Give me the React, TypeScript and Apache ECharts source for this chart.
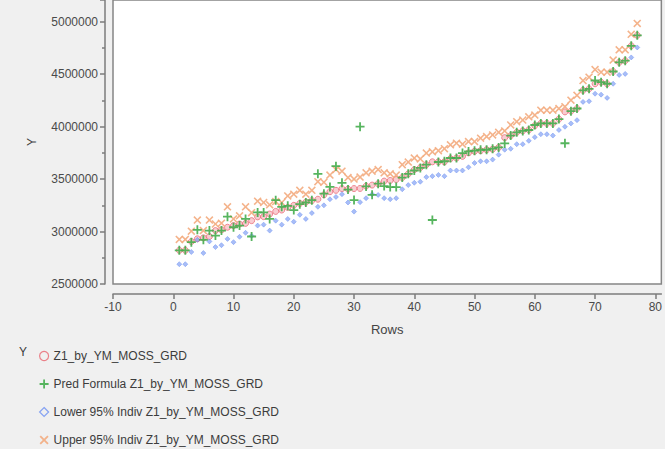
import React, { useEffect, useRef } from "react";
import * as echarts from "echarts";

// Row numbers 1..77 (x)
const z1Values = [
  2821000, 2821000, 2905000, 2931000, 2940000, 2953000, 3009000, 3016000, 3041000, 3057000,
  3072000, 3078000, 3104000, 3140000, 3142000, 3167000, 3192000, 3205000, 3230000, 3250000,
  3268000, 3280000, 3295000, 3308000, 3350000, 3380000, 3393000, 3410000, 3405000, 3410000,
  3411000, 3434000, 3443000, 3456000, 3481000, 3487000, 3496000, 3515000, 3550000, 3590000,
  3610000, 3638000, 3665000, 3665000, 3665000, 3695000, 3701000, 3717000, 3750000, 3765000,
  3771000, 3780000, 3785000, 3802000, 3895000, 3915000, 3946000, 3960000, 3970000, 4010000,
  4031000, 4031000, 4031000, 4072000, 4141000, 4148000, 4173000, 4346000, 4361000, 4409000,
  4424000, 4409000, 4526000, 4613000, 4629000, 4771000, 4871000,
];

const predValues = [
  2821000, 2821000, 2899000, 3016000, 2921000, 3009000, 2962000, 3009000, 3142000, 3041000,
  3057000, 3120000, 2953000, 3182000, 3182000, 3120000, 3299000, 3236000, 3245000, 3205000,
  3261000, 3277000, 3299000, 3550000, 3361000, 3425000, 3623000, 3465000, 3400000, 3300000,
  4000000, 3430000, 3350000, 3456000, 3434000, 3424000, 3424000, 3515000, 3550000, 3582000,
  3607000, 3638000, 3110000, 3663000, 3670000, 3701000, 3701000, 3748000, 3764000, 3771000,
  3780000, 3780000, 3790000, 3802000, 3840000, 3915000, 3946000, 3959000, 3968000, 4016000,
  4031000, 4031000, 4031000, 4072000, 3842000, 4148000, 4173000, 4346000, 4361000, 4440000,
  4424000, 4409000, 4526000, 4613000, 4629000, 4771000, 4871000,
];

const lowerValues = [
  2689000, 2689000, 2805000, 2921000, 2795000, 2906000, 2852000, 2870000, 2930000, 2899000,
  2950000, 2988000, 2960000, 3057000, 3066000, 3009000, 3104000, 3066000, 3120000, 3094000,
  3160000, 3120000, 3176000, 3236000, 3250000, 3308000, 3330000, 3356000, 3277000, 3190000,
  3280000, 3318000, 3356000, 3349000, 3318000, 3308000, 3318000, 3403000, 3443000, 3465000,
  3475000, 3519000, 3528000, 3540000, 3528000, 3582000, 3582000, 3582000, 3613000, 3654000,
  3670000, 3670000, 3686000, 3733000, 3780000, 3789000, 3833000, 3833000, 3865000, 3900000,
  3928000, 3928000, 3915000, 3968000, 3999000, 4031000, 4062000, 4236000, 4242000, 4314000,
  4305000, 4274000, 4409000, 4493000, 4503000, 4660000, 4755000,
];

const upperValues = [
  2925000, 2925000, 3003000, 3110000, 3009000, 3110000, 3072000, 3080000, 3236000, 3120000,
  3150000, 3236000, 3180000, 3290000, 3277000, 3255000, 3286000, 3277000, 3340000, 3356000,
  3393000, 3356000, 3393000, 3475000, 3470000, 3538000, 3591000, 3575000, 3515000, 3500000,
  3520000, 3560000, 3575000, 3591000, 3560000, 3550000, 3538000, 3638000, 3663000, 3701000,
  3692000, 3748000, 3760000, 3771000, 3790000, 3827000, 3843000, 3833000, 3858000, 3858000,
  3890000, 3906000, 3921000, 3946000, 3959000, 4016000, 4047000, 4063000, 4094000, 4110000,
  4157000, 4157000, 4157000, 4173000, 4190000, 4252000, 4299000, 4440000, 4472000, 4544000,
  4519000, 4519000, 4635000, 4733000, 4733000, 4880000, 4984000,
];

const seriesNames = [
  "Z1_by_YM_MOSS_GRD",
  "Pred Formula Z1_by_YM_MOSS_GRD",
  "Lower 95% Indiv Z1_by_YM_MOSS_GRD",
  "Upper 95% Indiv Z1_by_YM_MOSS_GRD",
];

const PLUS = "path://M4,0H6V4H10V6H6V10H4V6H0V4H4Z";
const CROSS =
  "path://M1.4,0L5,3.6L8.6,0L10,1.4L6.4,5L10,8.6L8.6,10L5,6.4L1.4,10L0,8.6L3.6,5L0,1.4Z";

const FONT = "'Liberation Sans', Arial, sans-serif";

const toPoints = (vals: number[]) => vals.map((v, i) => [i + 1, v]);

export default function App() {
  const ref = useRef<HTMLDivElement>(null);

  useEffect(() => {
    if (!ref.current) return;
    const chart = echarts.init(ref.current, undefined, { renderer: "svg" });
    const axisColor = "#7c7c7c";
    chart.setOption({
      animation: false,
      backgroundColor: "#f0f0f0",
      textStyle: { fontFamily: FONT },
      grid: {
        left: 113,
        right: -1,
        top: -3,
        bottom: 165,
        show: true,
        backgroundColor: "#ffffff",
        borderColor: "#858585",
        borderWidth: 1.5,
      },
      xAxis: {
        type: "value",
        min: -10,
        max: 81,
        interval: 10,
        offset: 10,
        name: "Rows",
        nameLocation: "middle",
        nameGap: 29,
        nameTextStyle: { fontSize: 13, color: "#444", fontFamily: FONT },
        axisLine: { show: true, onZero: false, lineStyle: { color: axisColor, width: 1.5 } },
        axisTick: { show: true, length: 5, lineStyle: { color: axisColor, width: 1.5 } },
        axisLabel: {
          showMaxLabel: false,
          margin: 7,
          fontSize: 12,
          color: "#4a4a4a",
          fontFamily: FONT,
        },
        splitLine: { show: false },
      },
      yAxis: {
        type: "value",
        min: 2500000,
        max: 5207500,
        interval: 500000,
        offset: 8,
        name: "Y",
        nameLocation: "middle",
        nameGap: 67,
        nameTextStyle: { fontSize: 12, color: "#444", fontFamily: FONT },
        axisLine: { show: true, onZero: false, lineStyle: { color: axisColor, width: 1.5 } },
        axisTick: { show: true, length: 5, lineStyle: { color: axisColor, width: 1.5 } },
        minorTick: { show: true, splitNumber: 2, length: 3, lineStyle: { color: axisColor, width: 1.5 } },
        axisLabel: {
          showMaxLabel: false,
          margin: 7,
          fontSize: 12,
          color: "#4a4a4a",
          fontFamily: FONT,
          formatter: (v: number) => String(Math.round(v)),
        },
        splitLine: { show: false },
        minorSplitLine: { show: false },
      },
      legend: {
        orient: "vertical",
        left: 34,
        top: 345,
        height: 300,
        itemWidth: 9,
        itemHeight: 9,
        itemGap: 16,
        textStyle: { fontSize: 12, color: "#3c3c3c", fontFamily: FONT },
        data: [
          {
            name: seriesNames[0],
            icon: "circle",
            itemStyle: { color: "rgba(0,0,0,0)", borderColor: "#e8646e", borderWidth: 1.2 },
          },
          { name: seriesNames[1], icon: PLUS, itemStyle: { color: "#45ad4e", borderWidth: 0 } },
          {
            name: seriesNames[2],
            icon: "diamond",
            itemStyle: { color: "rgba(0,0,0,0)", borderColor: "#6a8ff2", borderWidth: 1.2 },
          },
          { name: seriesNames[3], icon: CROSS, itemStyle: { color: "#f3ab7e", borderWidth: 0 } },
        ],
      },
      graphic: [
        {
          type: "text",
          left: 19,
          top: 346,
          style: { text: "Y", fontSize: 12, fill: "#3c3c3c", font: `12px ${FONT}` },
        },
      ],
      series: [
        {
          name: seriesNames[0],
          type: "scatter",
          data: toPoints(z1Values),
          symbol: "circle",
          symbolSize: 6,
          itemStyle: { color: "rgba(242,140,150,0.55)", borderColor: "#ea6f7a", borderWidth: 1 },
          z: 2,
        },
        {
          name: seriesNames[2],
          type: "scatter",
          data: toPoints(lowerValues),
          symbol: "diamond",
          symbolSize: 5,
          itemStyle: { color: "rgba(110,145,242,0.75)", borderColor: "#6a8ff2", borderWidth: 0.6 },
          z: 3,
        },
        {
          name: seriesNames[3],
          type: "scatter",
          data: toPoints(upperValues),
          symbol: CROSS,
          symbolSize: 8,
          itemStyle: { color: "#f3ab7e", opacity: 0.9 },
          z: 4,
        },
        {
          name: seriesNames[1],
          type: "scatter",
          data: toPoints(predValues),
          symbol: PLUS,
          symbolSize: 9,
          itemStyle: { color: "#45ad4e", opacity: 0.9 },
          z: 5,
        },
      ],
    });
    return () => chart.dispose();
  }, []);

  return (
    <div
      ref={ref}
      style={{ position: "fixed", left: 0, top: 0, width: 665, height: 449 }}
    />
  );
}
